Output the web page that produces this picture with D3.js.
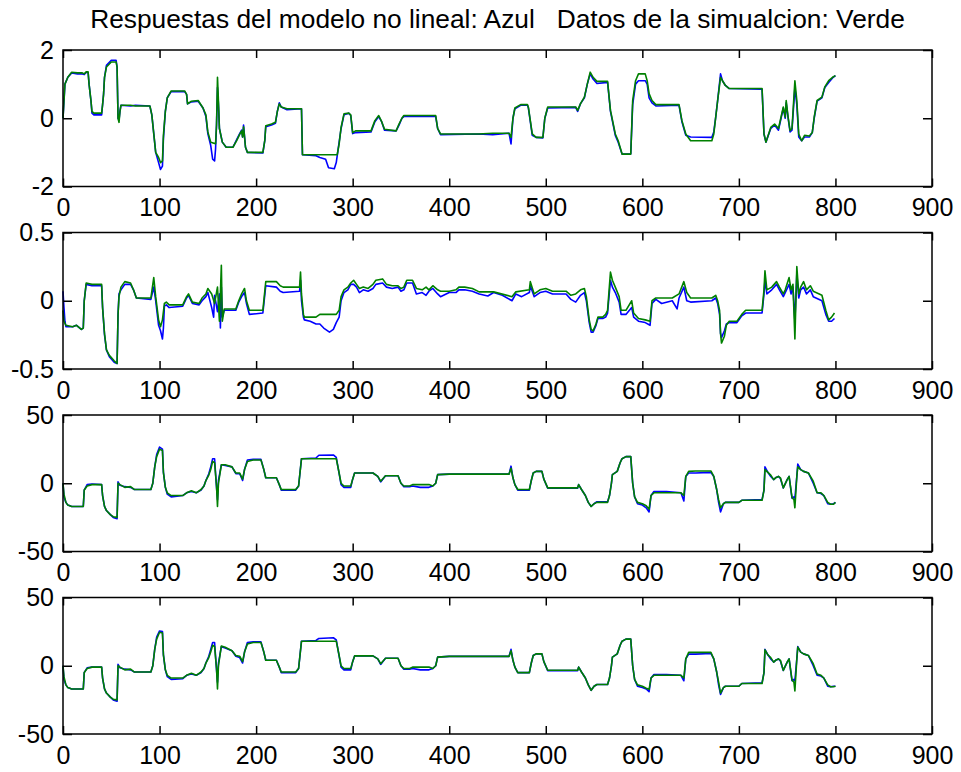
<!DOCTYPE html>
<html><head><meta charset="utf-8">
<script src="https://cdn.jsdelivr.net/npm/d3@7"></script>
<style>
body{margin:0;background:#fff}
svg text{font-family:"Liberation Sans",Arial,Helvetica,sans-serif;fill:#000}
</style></head>
<body><svg id="chart" width="961" height="772"></svg>
<script>
const titleText = "Respuestas del modelo no lineal: Azul   Datos de la simualcion: Verde";
const xTicks = [0,100,200,300,400,500,600,700,800,900];
const xTickLabels = ["0","100","200","300","400","500","600","700","800","900"];
const yTicks1 = [-2,0,2], yTickLabels1 = ["-2","0","2"];
const yTicks2 = [-0.5,0,0.5], yTickLabels2 = ["-0.5","0","0.5"];
const yTicks3 = [-50,0,50], yTickLabels3 = ["-50","0","50"];
const yTicks4 = [-50,0,50], yTickLabels4 = ["-50","0","50"];

const green1 = [[0,0.0],[1,0.5],[2,1.0],[5,1.2],[9,1.35],[15,1.33],[20,1.33],[22,1.3],[24,1.36],[26,1.36],[27,1.0],[29,0.5],[30,0.2],[32,0.15],[40,0.15],[41,0.4],[42,0.7],[43,1.2],[45,1.5],[50,1.65],[55,1.65],[56,1.5],[57,0.0],[58,-0.12],[59,0.2],[60,0.38],[70,0.38],[75,0.36],[90,0.36],[92,0.1],[94,-0.45],[96,-1.0],[99,-1.15],[101,-1.3],[103,-1.25],[104,-0.5],[106,0.2],[108,0.6],[112,0.8],[126,0.8],[128,0.7],[129,0.42],[133,0.5],[140,0.52],[145,0.3],[148,0.1],[150,-0.4],[153,-0.7],[158,-0.75],[159,-0.2],[160,1.2],[161,0.5],[162,-0.3],[165,-0.7],[169,-0.85],[176,-0.85],[180,-0.65],[183,-0.47],[185,-0.37],[186,-0.55],[187,-0.25],[189,-0.85],[191,-1.0],[207,-1.0],[209,-0.65],[210,-0.22],[216,-0.17],[220,-0.12],[222,0.2],[224,0.42],[226,0.33],[232,0.28],[247,0.28],[248,-1.07],[284,-1.07],[286,-0.75],[288,-0.27],[291,0.13],[296,0.15],[298,0.1],[300,-0.42],[303,-0.37],[319,-0.37],[323,-0.07],[327,0.08],[330,-0.1],[333,-0.32],[345,-0.37],[348,-0.17],[351,0.0],[353,0.08],[386,0.08],[388,-0.3],[391,-0.46],[430,-0.46],[445,-0.44],[462,-0.44],[464,-0.56],[466,0.0],[468,0.3],[474,0.4],[481,0.4],[482,0.32],[484,-0.07],[486,-0.46],[490,-0.56],[497,-0.56],[499,0.0],[502,0.33],[531,0.33],[533,0.23],[536,0.43],[540,0.62],[543,1.0],[546,1.35],[549,1.2],[553,1.08],[564,1.08],[567,0.23],[572,-0.46],[575,-0.66],[579,-1.05],[588,-1.05],[590,0.52],[593,1.1],[596,1.3],[603,1.3],[605,1.1],[607,0.72],[610,0.52],[614,0.4],[638,0.4],[641,-0.07],[645,-0.46],[650,-0.66],[672,-0.66],[674,-0.46],[676,0.03],[678,0.52],[681,1.2],[683,1.1],[686,0.96],[690,0.87],[724,0.87],[726,-0.46],[728,-0.7],[733,-0.27],[737,-0.17],[741,-0.3],[746,0.33],[748,0.03],[749,0.52],[751,0.03],[753,-0.36],[755,-0.3],[758,1.1],[760,0.52],[762,-0.46],[765,-0.66],[768,-0.5],[773,-0.52],[776,-0.42],[778,0.03],[781,0.52],[786,0.62],[789,0.92],[793,1.1],[797,1.2],[800,1.25]];

const blue1 = [[0,0.0],[1,0.5],[2,1.0],[5,1.2],[9,1.33],[15,1.3],[20,1.3],[22,1.28],[24,1.34],[26,1.34],[27,1.0],[29,0.5],[30,0.15],[32,0.1],[40,0.1],[41,0.4],[42,0.7],[43,1.2],[45,1.55],[50,1.7],[55,1.7],[56,1.5],[57,0.0],[58,-0.05],[59,0.2],[60,0.38],[70,0.36],[75,0.38],[90,0.36],[92,0.1],[94,-0.45],[96,-1.0],[99,-1.3],[101,-1.5],[103,-1.4],[104,-0.6],[106,0.2],[108,0.6],[112,0.78],[126,0.78],[128,0.7],[129,0.42],[133,0.48],[140,0.5],[145,0.3],[148,0.05],[150,-0.45],[153,-0.8],[155,-1.2],[157,-1.25],[158,-0.9],[159,-0.2],[160,0.9],[161,0.4],[162,-0.3],[165,-0.7],[169,-0.85],[176,-0.85],[180,-0.62],[183,-0.45],[185,-0.35],[186,-0.55],[187,-0.2],[189,-0.85],[191,-1.0],[207,-1.02],[209,-0.65],[210,-0.25],[216,-0.2],[220,-0.15],[222,0.2],[224,0.45],[226,0.33],[232,0.25],[247,0.28],[248,-1.07],[262,-1.1],[266,-1.15],[272,-1.2],[275,-1.45],[281,-1.48],[283,-1.3],[285,-0.9],[288,-0.3],[291,0.1],[296,0.15],[298,0.08],[300,-0.45],[303,-0.42],[319,-0.4],[323,-0.1],[327,0.05],[330,-0.1],[333,-0.35],[345,-0.37],[348,-0.2],[351,0.0],[353,0.05],[386,0.05],[388,-0.3],[391,-0.48],[430,-0.46],[445,-0.48],[462,-0.44],[464,-0.75],[466,0.0],[468,0.28],[474,0.38],[481,0.38],[482,0.3],[484,-0.1],[486,-0.5],[490,-0.56],[497,-0.58],[499,0.0],[502,0.3],[531,0.32],[533,0.2],[536,0.43],[540,0.6],[543,1.0],[546,1.3],[549,1.15],[553,1.02],[564,1.05],[567,0.2],[572,-0.5],[575,-0.7],[579,-1.05],[588,-1.05],[590,0.4],[593,1.0],[596,1.1],[603,1.1],[605,1.0],[607,0.6],[610,0.45],[614,0.36],[638,0.38],[641,-0.1],[645,-0.5],[650,-0.55],[672,-0.56],[674,-0.4],[676,0.03],[678,0.52],[681,1.3],[683,1.1],[686,0.96],[690,0.87],[724,0.85],[726,-0.46],[728,-0.7],[733,-0.3],[737,-0.2],[741,-0.35],[746,0.3],[748,0.0],[749,0.45],[751,0.0],[753,-0.4],[755,-0.35],[758,0.9],[760,0.4],[762,-0.55],[765,-0.66],[768,-0.55],[773,-0.55],[776,-0.42],[778,0.0],[781,0.5],[786,0.6],[789,0.9],[793,1.05],[797,1.18],[800,1.25]];

const green2 = [[0,-0.07],[1,-0.15],[3,-0.18],[10,-0.19],[14,-0.18],[19,-0.21],[21,-0.2],[22,0.0],[24,0.13],[30,0.12],[40,0.12],[41,-0.05],[43,-0.24],[45,-0.36],[48,-0.4],[53,-0.44],[56,-0.46],[57,-0.1],[58,0.03],[60,0.1],[64,0.14],[70,0.13],[73,0.08],[76,0.02],[91,0.02],[94,0.17],[96,0.03],[99,-0.14],[101,-0.19],[103,-0.14],[105,-0.02],[107,-0.01],[110,-0.03],[124,-0.03],[128,0.03],[130,0.05],[134,-0.01],[141,-0.02],[144,0.02],[148,0.05],[150,0.09],[154,0.05],[157,-0.02],[160,0.1],[162,-0.15],[164,0.26],[165,-0.15],[167,-0.06],[179,-0.06],[182,0.0],[185,0.05],[188,0.09],[190,0.0],[193,-0.07],[207,-0.07],[210,0.14],[221,0.14],[225,0.11],[228,0.1],[245,0.1],[246,0.21],[247,0.05],[249,-0.1],[250,-0.12],[262,-0.12],[266,-0.1],[283,-0.1],[286,-0.07],[288,0.03],[291,0.08],[295,0.1],[298,0.13],[301,0.15],[304,0.12],[307,0.09],[311,0.1],[316,0.09],[321,0.12],[324,0.15],[331,0.16],[335,0.12],[341,0.11],[347,0.11],[350,0.09],[353,0.1],[356,0.15],[362,0.15],[366,0.09],[372,0.08],[376,0.1],[379,0.08],[383,0.11],[388,0.08],[391,0.07],[400,0.07],[407,0.08],[410,0.1],[416,0.1],[424,0.09],[431,0.065],[446,0.065],[465,0.03],[469,0.065],[483,0.08],[484,0.14],[488,0.05],[494,0.08],[500,0.09],[507,0.07],[521,0.07],[526,0.04],[531,0.05],[536,0.08],[540,0.09],[542,0.03],[545,-0.14],[547,-0.21],[549,-0.22],[552,-0.17],[554,-0.12],[559,-0.12],[562,-0.1],[564,-0.07],[567,0.21],[569,0.15],[572,0.1],[576,0.03],[578,-0.07],[583,-0.07],[589,0.0],[591,-0.09],[596,-0.13],[603,-0.14],[608,-0.15],[610,0.0],[614,0.02],[631,0.02],[638,0.05],[643,0.14],[646,0.06],[650,0.02],[672,0.02],[676,0.04],[678,0.0],[680,-0.07],[681,-0.24],[682,-0.31],[685,-0.26],[687,-0.18],[690,-0.15],[698,-0.15],[703,-0.1],[707,-0.07],[724,-0.07],[726,0.08],[727,0.22],[729,0.08],[734,0.1],[739,0.14],[742,0.1],[746,0.05],[748,0.08],[752,0.17],[754,0.08],[756,0.12],[758,-0.28],[760,0.25],[762,0.05],[764,0.1],[767,0.14],[770,0.08],[774,0.11],[777,0.07],[786,0.04],[790,-0.07],[793,-0.14],[796,-0.12],[799,-0.09]];

const blue2 = [[0,0.07],[1,-0.05],[2,-0.15],[3,-0.19],[10,-0.19],[14,-0.18],[19,-0.21],[21,-0.2],[22,0.0],[24,0.12],[30,0.11],[40,0.11],[41,-0.05],[43,-0.25],[45,-0.36],[48,-0.41],[53,-0.45],[56,-0.46],[57,-0.1],[58,0.05],[60,0.08],[64,0.12],[70,0.12],[73,0.08],[76,0.02],[91,0.01],[94,0.1],[96,0.0],[99,-0.18],[101,-0.22],[103,-0.28],[104,-0.2],[105,-0.04],[107,-0.03],[110,-0.05],[124,-0.04],[128,0.02],[130,0.04],[134,-0.02],[141,-0.03],[144,0.0],[148,0.03],[150,0.06],[154,-0.05],[156,-0.12],[157,0.04],[160,-0.08],[162,0.05],[163,-0.2],[164,0.1],[165,-0.12],[167,-0.07],[179,-0.07],[182,-0.01],[185,0.03],[188,0.06],[190,-0.02],[193,-0.1],[207,-0.09],[210,0.11],[221,0.1],[225,0.07],[228,0.06],[245,0.07],[246,0.15],[247,0.0],[249,-0.12],[250,-0.14],[256,-0.15],[262,-0.17],[266,-0.17],[270,-0.2],[276,-0.23],[280,-0.21],[283,-0.16],[286,-0.12],[288,0.0],[291,0.06],[295,0.08],[298,0.12],[301,0.12],[304,0.1],[307,0.06],[311,0.08],[316,0.07],[321,0.09],[324,0.12],[331,0.13],[335,0.1],[341,0.09],[347,0.1],[350,0.07],[353,0.08],[356,0.13],[362,0.13],[366,0.05],[372,0.06],[376,0.04],[379,0.07],[383,0.09],[388,0.05],[391,0.03],[400,0.06],[407,0.06],[410,0.08],[416,0.08],[424,0.07],[431,0.05],[440,0.035],[446,0.06],[455,0.04],[465,0.0],[469,0.05],[475,0.03],[483,0.06],[484,0.11],[488,0.03],[494,0.06],[500,0.07],[507,0.05],[521,0.05],[526,0.01],[531,-0.01],[536,0.04],[540,0.06],[542,0.0],[545,-0.16],[547,-0.23],[549,-0.23],[552,-0.18],[554,-0.13],[559,-0.13],[562,-0.12],[564,-0.09],[567,0.15],[569,0.1],[572,0.06],[576,-0.01],[578,-0.1],[583,-0.1],[589,-0.05],[591,-0.12],[596,-0.15],[603,-0.16],[608,-0.18],[610,-0.02],[614,0.01],[620,-0.02],[631,0.0],[636,-0.06],[638,0.02],[643,0.1],[646,0.0],[650,-0.01],[672,0.0],[676,0.02],[678,-0.02],[680,-0.1],[681,-0.24],[682,-0.27],[685,-0.22],[687,-0.17],[690,-0.16],[698,-0.16],[703,-0.11],[707,-0.09],[724,-0.09],[726,0.05],[727,0.15],[729,0.05],[734,0.08],[739,0.12],[742,0.08],[746,0.03],[748,0.06],[752,0.12],[754,0.05],[756,0.1],[758,-0.15],[760,0.2],[762,0.02],[764,0.08],[767,0.1],[770,0.05],[774,0.08],[777,0.03],[786,0.0],[790,-0.1],[793,-0.15],[796,-0.15],[799,-0.13]];

const green3 = [[0,0],[1,-8],[3,-14],[5,-16],[9,-17],[21,-17],[22,-5],[25,-2],[30,-1],[40,-1],[41,-9],[43,-17],[45,-20],[49,-23],[52,-24.5],[56,-25],[57,0],[59,-1],[64,-3],[70,-2.5],[74,-4.6],[91,-4.6],[93,0],[95,12],[97,19.5],[100,25],[103,24],[104,8],[106,-3],[108,-7],[112,-9],[124,-9],[128,-7],[133,-5.5],[138,-7],[143,-4.6],[146,-2],[148,2],[151,6],[153,10],[155,16],[157,15],[159,-2],[160,-17],[161,0],[164,13.5],[168,13.5],[175,12],[179,7.5],[183,7.5],[186,3],[188,10],[191,16],[197,17],[205,17],[208,10],[210,4],[221,4],[224,-1],[226,-4.6],[241,-4.6],[244,-2],[247,18],[283,18],[286,7.5],[288,0],[291,-2],[298,-2],[300,3],[302,7.5],[321,7.5],[326,5],[329,1.5],[334,5.5],[347,5.5],[350,0],[353,-2],[359,-2],[362,-1],[379,-1],[383,-2],[386,0],[388,6.3],[400,6.7],[462,6.7],[464,11],[466,4],[468,-1],[471,-4.6],[483,-4.6],[485,2],[487,7.5],[490,8.7],[496,8.7],[498,3],[502,-3.4],[533,-3.4],[534,-1],[537,-4.6],[541,-9],[544,-14],[547,-17],[550,-15],[553,-14],[564,-14],[566,-9],[568,0],[569,6.3],[574,8.7],[577,15],[579,18],[583,19.5],[588,19.5],[590,0],[592,-10],[595,-14],[600,-15],[604,-16.5],[607,-19],[609,-9],[612,-7],[640,-7],[643,-9],[645,5],[648,8.7],[655,9],[671,9],[674,5],[677,-4.6],[679,-12],[681,-18],[684,-15],[686,-14],[700,-14],[703,-12.5],[724,-12.5],[726,-5],[727,10],[730,8],[733,6],[736,2.7],[738,4],[741,5],[743,4],[746,-3.4],[750,2.7],[752,5],[755,-10.4],[757,-12],[758,-18],[760,5],[761,12],[764,10],[767,8.7],[772,7.5],[777,1.5],[781,-7],[785,-7],[788,-9],[792,-14],[795,-15.4],[798,-15.4],[800,-14]];

const blue3 = [[0,0],[1,-10],[3,-14],[5,-16],[9,-17],[21,-17],[22,-5],[25,-1],[30,-0.5],[40,-1],[41,-9],[43,-17],[45,-20],[49,-23],[52,-25],[56,-26],[57,1],[59,-1.5],[64,-2.5],[70,-3],[74,-4.6],[91,-4.6],[93,0],[95,12],[97,21],[100,26.5],[103,25],[104,8],[106,-3],[108,-8],[112,-10],[124,-9],[128,-7],[133,-6],[138,-7],[143,-5],[146,-2],[148,2],[151,7],[153,12],[155,18],[157,18],[159,-3],[160,-12],[161,2],[164,13.5],[168,13],[175,12],[179,7],[183,7],[186,2],[188,10],[191,17],[197,17.5],[205,17.5],[208,10],[210,4],[221,4],[224,-1],[226,-5],[241,-5],[244,-2],[247,18],[262,18.5],[265,20.5],[280,20.7],[283,19],[286,7],[288,-1],[291,-3],[298,-3],[300,3],[302,7.5],[321,7.5],[326,5],[329,1],[334,5.5],[347,5.5],[350,0],[353,-2.5],[359,-2.5],[362,-2],[370,-3],[379,-3],[383,-2],[386,0],[388,6.3],[400,6.7],[462,6.7],[464,12.5],[466,4],[468,-1],[471,-5],[483,-5],[485,2],[487,7.5],[490,8.7],[496,8.7],[498,3],[502,-3.6],[533,-3.6],[534,-1],[537,-4.6],[541,-9],[544,-14],[547,-17],[550,-15],[553,-13.5],[564,-13.5],[566,-9],[568,0],[569,6.3],[574,8.7],[577,15],[579,18],[583,19.5],[588,19.5],[590,0],[592,-10],[595,-15],[600,-16],[604,-18],[607,-21],[609,-9],[612,-6],[625,-6],[640,-7],[643,-13],[645,5],[648,7.5],[655,7.5],[671,8],[674,5],[677,-4.6],[679,-14],[681,-21],[684,-15],[686,-14],[700,-14],[703,-12.5],[724,-12],[726,-5],[727,12],[730,8],[733,5],[736,2.7],[738,4],[741,5],[743,3.5],[746,-3.4],[750,2.7],[752,5],[755,-11],[757,-10],[758,-11],[760,5],[761,14],[764,10],[767,8.7],[772,7.5],[777,0],[781,-7],[785,-7.5],[788,-9],[792,-15],[795,-15.4],[798,-15],[800,-14]];

const green4 = [[0,0],[1,-8],[3,-14],[5,-16],[9,-17],[21,-17],[22,-5],[25,-2],[30,-1],[40,-1],[41,-9],[43,-17],[45,-20],[49,-23],[52,-24.5],[56,-25],[57,0],[59,-1],[64,-3],[70,-2.5],[74,-4.6],[91,-4.6],[93,0],[95,12],[97,19.5],[100,24.5],[103,24],[104,8],[106,-3],[108,-7],[112,-9],[124,-9],[128,-7],[133,-5.5],[138,-7],[143,-4.6],[146,-2],[148,2],[151,6],[153,10],[155,15],[157,14],[159,-2],[160,-17],[161,0],[164,14.5],[168,13.5],[175,11],[179,7.5],[183,7],[186,3],[188,10],[191,16],[197,17],[205,17],[208,10],[210,4],[221,4],[224,-1],[226,-4.6],[241,-4.6],[244,-2],[247,18],[283,18],[286,7.5],[288,0],[291,-2],[298,-2],[300,3],[302,7.2],[321,7.2],[326,5],[329,1.5],[334,5.5],[347,5.5],[350,0],[353,-2],[359,-2],[362,-1],[379,-1],[383,-2],[386,0],[388,6.3],[400,6.9],[462,6.9],[464,11],[466,4],[468,-1],[471,-5],[483,-5],[485,2],[487,7.5],[490,8.7],[496,8.7],[498,3],[502,-3.3],[533,-3.3],[534,-1],[537,-4.6],[541,-9],[544,-14],[547,-18],[550,-15],[553,-13.7],[564,-13.7],[566,-9],[568,0],[569,6.3],[574,8.7],[577,15],[579,18],[583,19.5],[588,19.5],[590,0],[592,-10],[595,-14],[600,-15],[604,-16.5],[607,-17.3],[609,-9],[612,-7],[640,-7],[643,-9],[645,5],[648,9.8],[655,9.8],[671,9.8],[674,5],[677,-4.6],[679,-12],[681,-20],[684,-16],[686,-15],[700,-15],[703,-13],[724,-13],[726,-5],[727,11.7],[730,8],[733,6],[736,2.7],[738,4],[741,5],[743,4],[746,-3.4],[750,2.7],[752,5],[755,-10.4],[757,-12],[758,-18.5],[760,5],[761,13.7],[764,10],[767,8.7],[772,7.5],[777,1.5],[781,-6],[785,-7],[788,-9],[792,-14],[795,-15.4],[798,-15.4],[800,-15]];

const blue4 = [[0,0],[1,-10],[3,-14],[5,-16],[9,-17],[21,-17],[22,-5],[25,-1.5],[30,-1],[40,-1],[41,-9],[43,-17],[45,-20],[49,-23],[52,-25],[56,-26],[57,1],[59,-1.5],[64,-2.5],[70,-3],[74,-4.6],[91,-4.6],[93,0],[95,12],[97,21],[100,25.5],[103,25],[104,8],[106,-3],[108,-8],[112,-10],[124,-9.5],[128,-7],[133,-6],[138,-7],[143,-5],[146,-2],[148,2],[151,7],[153,12],[155,17],[157,17],[159,-3],[160,-12],[161,2],[164,14],[168,13],[175,11],[179,7],[183,6],[186,2],[188,10],[191,17],[197,17.5],[205,17.5],[208,10],[210,4],[221,4],[224,-1],[226,-5],[241,-5],[244,-2],[247,18],[262,18.5],[265,20],[280,20.5],[283,19],[286,7],[288,-1],[291,-3],[298,-3],[300,3],[302,7.2],[321,7.2],[326,5],[329,1],[334,5.5],[347,5.5],[350,0],[353,-2.5],[359,-2.5],[362,-2],[370,-3],[379,-3],[383,-2],[386,0],[388,6.3],[400,6.9],[462,6.9],[464,12],[466,4],[468,-1],[471,-5],[483,-5],[485,2],[487,7.5],[490,8.7],[496,8.7],[498,3],[502,-3.6],[533,-3.6],[534,-1],[537,-4.6],[541,-9],[544,-14],[547,-18],[550,-15],[553,-13.7],[564,-13.7],[566,-9],[568,0],[569,6.3],[574,8.7],[577,15],[579,18],[583,19.5],[588,19.5],[590,0],[592,-10],[595,-15],[600,-16],[604,-17],[607,-19],[609,-9],[612,-6.5],[625,-6.5],[640,-7],[643,-11],[645,5],[648,8.5],[655,8.5],[671,9],[674,5],[677,-4.6],[679,-14],[681,-21],[684,-16],[686,-15],[700,-15],[703,-13],[724,-12.5],[726,-5],[727,12],[730,8],[733,5],[736,2.7],[738,4],[741,5],[743,3.5],[746,-3.4],[750,2.7],[752,5],[755,-11],[757,-10],[758,-11],[760,5],[761,14],[764,10],[767,8.7],[772,7.5],[777,0],[781,-7],[785,-7.5],[788,-9],[792,-15],[795,-15.4],[798,-15],[800,-15]];

const panels = [
  {blue: blue1, green: green1, ticks: yTicks1, labels: yTickLabels1},
  {blue: blue2, green: green2, ticks: yTicks2, labels: yTickLabels2},
  {blue: blue3, green: green3, ticks: yTicks3, labels: yTickLabels3},
  {blue: blue4, green: green4, ticks: yTicks4, labels: yTickLabels4}
];

const svg = d3.select("#chart");
svg.append("rect").attr("width",961).attr("height",772).attr("fill","#fff");
const L = 63, R = 932, H = 136.5;
const tops = [50, 232.5, 415, 597.5];
const FS = 25;

const title = svg.append("text").attr("x",(L+R)/2).attr("y",28)
  .attr("text-anchor","middle").attr("font-size",22)
  .attr("xml:space","preserve").style("white-space","pre").text(titleText);
const tw = title.node().getComputedTextLength();
title.attr("font-size", 22 * 815 / tw);

const x = d3.scaleLinear().domain([0,900]).range([L,R]);

panels.forEach((p,i) => {
  const top = tops[i], bottom = top + H;
  const y = d3.scaleLinear().domain([p.ticks[0], p.ticks[2]]).range([bottom, top]);
  const g = svg.append("g");
  const line = d3.line().x(d => x(d[0])).y(d => y(d[1]));
  g.append("path").datum(p.blue).attr("d",line).attr("fill","none")
    .attr("stroke","#0000ff").attr("stroke-width",1.6).attr("stroke-linejoin","round");
  g.append("path").datum(p.green).attr("d",line).attr("fill","none")
    .attr("stroke","#008000").attr("stroke-width",1.6).attr("stroke-linejoin","round");

  const ax = (sel) => { sel.select(".domain").remove(); sel.selectAll("line").attr("stroke","#000").attr("stroke-width",1.5); sel.selectAll("text").attr("font-size",FS).attr("font-family",'"Liberation Sans",Arial,sans-serif').attr("fill","#000"); };
  g.append("g").attr("transform",`translate(0,${bottom})`)
    .call(d3.axisBottom(x).tickValues(xTicks).tickFormat((d,k)=>xTickLabels[k]).tickSizeInner(-8).tickSizeOuter(0).tickPadding(12))
    .call(ax);
  g.append("g").attr("transform",`translate(0,${top})`)
    .call(d3.axisTop(x).tickValues(xTicks).tickFormat("").tickSizeInner(-8).tickSizeOuter(0))
    .call(ax);
  g.append("g").attr("transform",`translate(${L},0)`)
    .call(d3.axisLeft(y).tickValues(p.ticks).tickFormat((d,k)=>p.labels[k]).tickSizeInner(-9).tickSizeOuter(0).tickPadding(9))
    .call(ax);
  g.append("g").attr("transform",`translate(${R},0)`)
    .call(d3.axisRight(y).tickValues(p.ticks).tickFormat("").tickSizeInner(-9).tickSizeOuter(0))
    .call(ax);
  g.append("rect").attr("x",L).attr("y",top).attr("width",R-L).attr("height",H)
    .attr("fill","none").attr("stroke","#000").attr("stroke-width",1.5);
});
</script>
</body></html>
